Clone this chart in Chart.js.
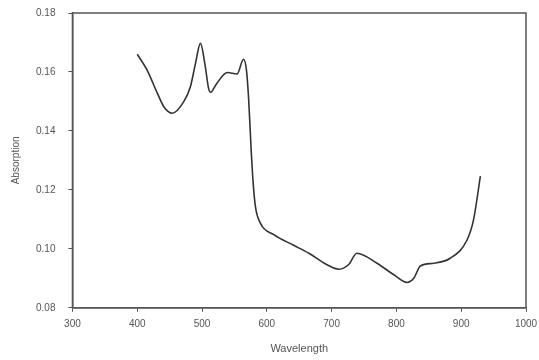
<!DOCTYPE html>
<html>
<head>
<meta charset="utf-8">
<script src="https://cdn.jsdelivr.net/npm/chart.js@4/dist/chart.umd.min.js"></script>
<style>
  html, body { margin: 0; padding: 0; background: #fff; }
  #wrap { width: 539px; height: 360px; }
</style>
</head>
<body>
<div id="wrap"><canvas id="c"></canvas></div>
<script>
const wavelength = [400, 415, 431, 441, 454, 472, 482, 490, 497.5, 505, 510, 513, 523, 539, 554, 564,
  568.5, 572, 575.8, 578.9, 582.4, 590, 610.7, 641.5, 665, 693, 711, 726, 739, 770, 796, 816.5,
  826.7, 837, 857.6, 883, 909, 919, 929.6];
const absorption = [0.166, 0.1607, 0.1528, 0.1482, 0.146, 0.150, 0.155, 0.163, 0.1697, 0.1618, 0.1545,
  0.1531, 0.1562, 0.1598, 0.1593, 0.1643, 0.1607, 0.1505, 0.1336, 0.1223, 0.1143, 0.1087, 0.1048,
  0.1012, 0.0985, 0.0946, 0.0931, 0.0946, 0.0985, 0.0951, 0.0912, 0.0886, 0.090, 0.0942, 0.0951,
  0.0968, 0.103, 0.1098, 0.1247];
const xTicks = [300, 400, 500, 600, 700, 800, 900, 1000];
const yTicks = [0.08, 0.10, 0.12, 0.14, 0.16, 0.18];

const axisColor = '#555';
const textColor = '#555';

// рамка вокруг области графика (сверху и справа тоже)
const frame = {
  id: 'frame',
  afterDraw(chart) {
    const a = chart.chartArea;
    const ctx = chart.ctx;
    ctx.save();
    ctx.strokeStyle = axisColor;
    ctx.lineWidth = 1.5;
    ctx.strokeRect(a.left, a.top, a.right - a.left, a.bottom - a.top);
    ctx.restore();
  }
};

const points = wavelength.map(function (w, i) { return { x: w, y: absorption[i] }; });

new Chart(document.getElementById('c'), {
  type: 'line',
  data: {
    datasets: [{
      data: points,
      borderColor: '#333',
      borderWidth: 1.6,
      pointRadius: 0,
      fill: false,
      cubicInterpolationMode: 'monotone'
    }]
  },
  options: {
    responsive: true,
    maintainAspectRatio: false,
    animation: false,
    layout: { padding: { left: 10, right: 13, top: 13, bottom: 4 } },
    plugins: { legend: { display: false }, tooltip: { enabled: false } },
    scales: {
      x: {
        type: 'linear',
        min: 300,
        max: 1000,
        afterBuildTicks: function (ax) { ax.ticks = xTicks.map(function (v) { return { value: v }; }); },
        // крайние подписи не должны сдвигать область графика
        afterFit: function (ax) { ax.paddingLeft = 0; ax.paddingRight = 0; },
        ticks: { color: textColor, font: { family: 'Liberation Sans', size: 10 }, padding: 6,
          callback: function (v) { return String(v); } },
        grid: { drawOnChartArea: false, tickLength: 4, color: axisColor, tickColor: axisColor },
        border: { color: axisColor, width: 1.5 },
        title: { display: true, text: 'Wavelength', color: textColor,
          font: { family: 'Liberation Sans', size: 11 }, padding: { top: 7, bottom: 0 } }
      },
      y: {
        min: 0.08,
        max: 0.18,
        afterBuildTicks: function (ax) { ax.ticks = yTicks.map(function (v) { return { value: v }; }); },
        afterFit: function (ax) { ax.paddingTop = 0; ax.paddingBottom = 0; },
        ticks: { color: textColor, font: { family: 'Liberation Sans', size: 10 }, padding: 13,
          callback: function (v) { return v.toFixed(2); } },
        grid: { drawOnChartArea: false, tickLength: 4, color: axisColor, tickColor: axisColor },
        border: { color: axisColor, width: 1.5 },
        title: { display: true, text: 'Absorption', color: textColor,
          font: { family: 'Liberation Sans', size: 10 }, padding: { top: 0, bottom: 1 } }
      }
    }
  },
  plugins: [frame]
});
</script>
</body>
</html>
